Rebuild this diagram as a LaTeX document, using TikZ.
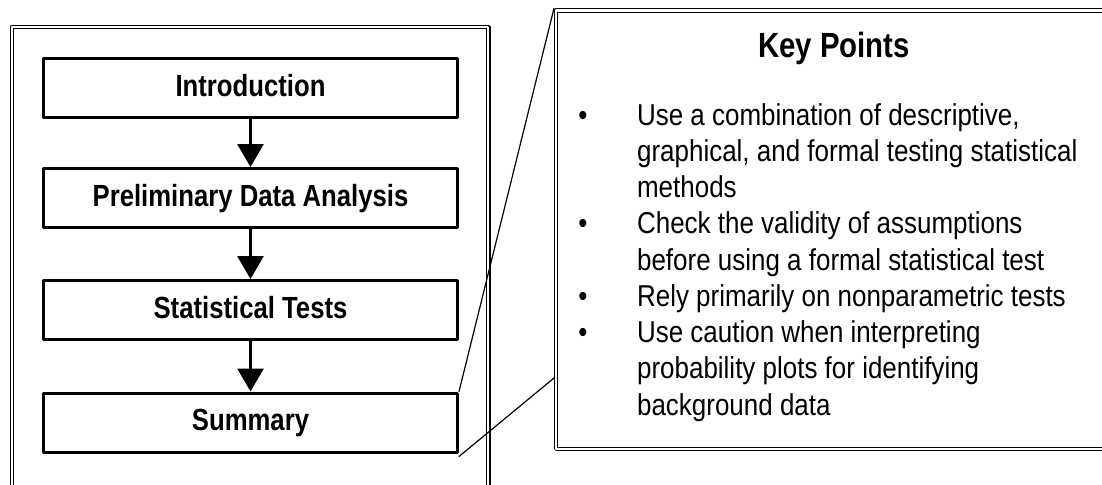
\documentclass[tikz,border=0pt]{standalone}
\usepackage{fontspec}
\newfontfamily\boxfont[FakeStretch=0.84]{Liberation Sans}
\newfontfamily\keyfont[FakeStretch=0.86]{Liberation Sans}
\usetikzlibrary{arrows.meta,positioning}

\tikzset{
  stepbox/.style={draw, line width=1.5pt, minimum width=207pt, minimum height=29.5pt,
    inner sep=0pt, text height=11pt, text depth=3pt,
    font=\boxfont\bfseries\fontsize{15.3}{18}\selectfont},
  frame/.style={draw, double, line width=0.55pt, double distance=1.1pt},
  keytext/.style={anchor=base west, inner sep=0pt, font=\keyfont\fontsize{15.1}{18}\selectfont},
  flow/.style={line width=1.5pt, -{Triangle[width=13pt,length=11.5pt]}},
  callout/.style={line width=0.6pt}
}

\begin{document}
\begin{tikzpicture}[x=0.5pt, y=-0.5pt, line cap=round, line join=round]
    \clip (0,0) rectangle (1102,484);

    % outer frames
    \draw[frame] (11.7,27) rectangle (488.3,520);
    \draw[frame] (556.2,10.5) rectangle (1130,448.8);
    \coordinate (keycorner) at (554,8.3);
    \coordinate (keyside) at (554,378);

    % steps
    \node[stepbox] (intro) at (250.5,88.3) {Introduction};
    \node[stepbox] (prelim) at (250.5,198) {Preliminary Data Analysis};
    \node[stepbox] (stats) at (250.5,310) {Statistical Tests};
    \node[stepbox] (summary) at (250.5,422.5) {Summary};

    \draw[flow] (intro) -- (prelim);
    \draw[flow] (prelim) -- (stats);
    \draw[flow] (stats) -- (summary);

    % callout
    \draw[callout] (summary.north east) -- (keycorner);
    \draw[callout] ([yshift=-1.5pt]summary.south east) -- (keyside);

    % key points
    \node[anchor=base, inner sep=0pt, font=\boxfont\bfseries\fontsize{17.5}{20}\selectfont]
        (keytitle) at (834,57.7) {Key Points};
    \foreach \ln [count=\i from 0] in {{Use a combination of descriptive,},
        {graphical, and formal testing statistical}, {methods},
        {Check the validity of assumptions}, {before using a formal statistical test},
        {Rely primarily on nonparametric tests}, {Use caution when interpreting},
        {probability plots for identifying}, {background data}}
      \node[keytext] (line\i) at (636.7,125+36.25*\i) {\ln};
    \foreach \i in {0,3,5,6}
      \node[keytext, anchor=base] (dot\i) at (583,125+36.25*\i) {•};
\end{tikzpicture}
\end{document}
